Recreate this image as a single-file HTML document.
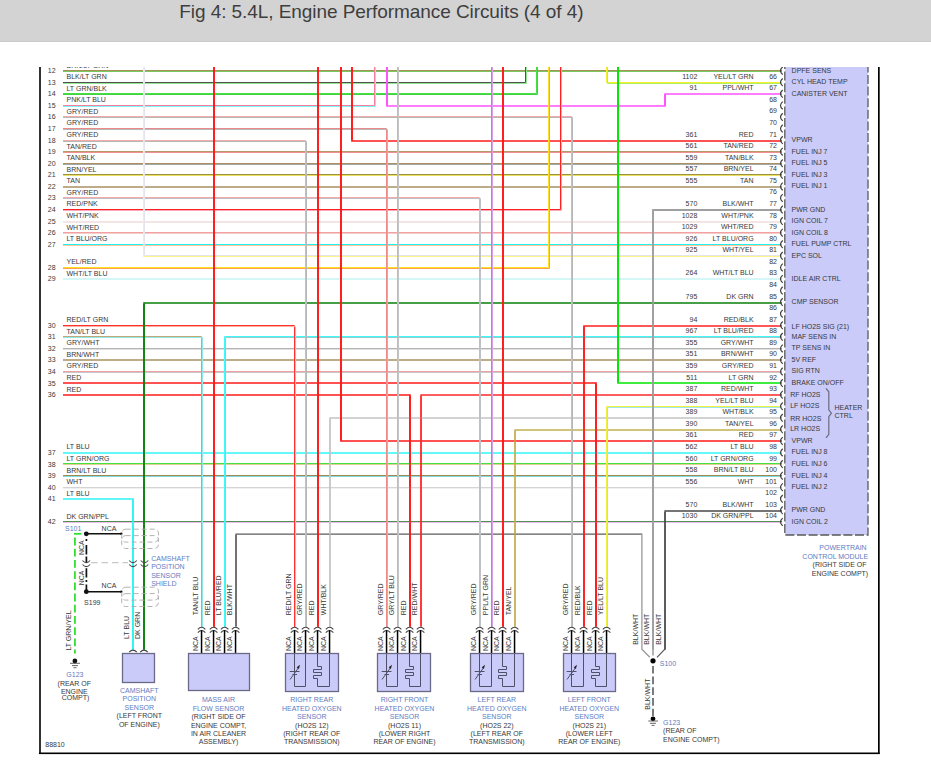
<!DOCTYPE html>
<html><head><meta charset="utf-8">
<style>
html,body{margin:0;padding:0;background:#fff;width:931px;height:774px;overflow:hidden;}
.hdr{position:absolute;left:0;top:0;width:931px;height:41px;background:#d3d3d3;border-bottom:1px solid #cbcbcb;}
.title{position:absolute;left:179.3px;top:1.1px;font-family:"Liberation Sans",sans-serif;font-size:19px;letter-spacing:-0.07px;color:#3e3e3e;white-space:nowrap;}
svg{position:absolute;left:0;top:0;}
svg text{font-family:"Liberation Sans",sans-serif;}
</style></head><body>
<div class="hdr"><div class="title">Fig 4: 5.4L, Engine Performance Circuits (4 of 4)</div></div>
<svg width="931" height="774" viewBox="0 0 931 774">
<defs><clipPath id="clip"><rect x="0" y="67" width="931" height="707"/></clipPath></defs>
<g clip-path="url(#clip)">
<path d="M63.00,70.50 L782.00,70.50" stroke="#a89058" stroke-width="1" fill="none"/>
<path d="M63.00,71.50 L782.00,71.50" stroke="#78c860" stroke-width="1" fill="none"/>
<path d="M63.00,82.50 L525.50,82.50 L525.50,61.00" stroke="#505050" stroke-width="1" fill="none"/>
<path d="M63.00,83.50 L526.50,83.50 L526.50,61.00" stroke="#90e890" stroke-width="1" fill="none"/>
<path d="M63.00,93.50 L536.50,93.50 L536.50,61.00" stroke="#44e044" stroke-width="1" fill="none"/>
<path d="M63.00,94.50 L537.50,94.50 L537.50,61.00" stroke="#44d044" stroke-width="1" fill="none"/>
<path d="M63.00,105.50 L374.50,105.50 L374.50,61.00" stroke="#f57fa0" stroke-width="1" fill="none"/>
<path d="M63.00,106.50 L375.50,106.50 L375.50,61.00" stroke="#80f4f4" stroke-width="1" fill="none"/>
<path d="M63.00,116.50 L571.50,116.50 L571.50,627.00" stroke="#f5aaaa" stroke-width="1" fill="none"/>
<path d="M63.00,117.50 L572.50,117.50 L572.50,627.00" stroke="#b8b8b8" stroke-width="1" fill="none"/>
<path d="M63.00,128.50 L386.50,128.50 L386.50,627.00" stroke="#ec8a8a" stroke-width="1" fill="none"/>
<path d="M63.00,129.50 L387.50,129.50 L387.50,627.00" stroke="#b8b8b8" stroke-width="1" fill="none"/>
<path d="M63.00,140.50 L305.50,140.50 L305.50,627.00" stroke="#f5aaaa" stroke-width="1" fill="none"/>
<path d="M63.00,141.50 L306.50,141.50 L306.50,627.00" stroke="#b8b8b8" stroke-width="1" fill="none"/>
<path d="M63.00,151.50 L782.00,151.50" stroke="#b89868" stroke-width="1" fill="none"/>
<path d="M63.00,152.50 L782.00,152.50" stroke="#f09090" stroke-width="1" fill="none"/>
<path d="M63.00,163.50 L782.00,163.50" stroke="#a89060" stroke-width="1" fill="none"/>
<path d="M63.00,164.50 L782.00,164.50" stroke="#a8a8a8" stroke-width="1" fill="none"/>
<path d="M63.00,174.50 L782.00,174.50" stroke="#a09040" stroke-width="1" fill="none"/>
<path d="M63.00,175.50 L782.00,175.50" stroke="#e8e060" stroke-width="1" fill="none"/>
<path d="M63.00,187.00 L782.00,187.00" stroke="#a89060" stroke-width="1.7" fill="none"/>
<path d="M63.00,197.50 L479.50,197.50 L479.50,627.00" stroke="#f5aaaa" stroke-width="1" fill="none"/>
<path d="M63.00,198.50 L480.50,198.50 L480.50,627.00" stroke="#c0c0c8" stroke-width="1" fill="none"/>
<path d="M63.00,209.50 L560.50,209.50 L560.50,61.00" stroke="#ff2020" stroke-width="1" fill="none"/>
<path d="M63.00,210.50 L561.50,210.50 L561.50,61.00" stroke="#f8a8b8" stroke-width="1" fill="none"/>
<path d="M63.00,222.00 L782.00,222.00" stroke="#f0dcdc" stroke-width="1.7" fill="none"/>
<path d="M63.00,232.50 L782.00,232.50" stroke="#f2a0a0" stroke-width="1" fill="none"/>
<path d="M63.00,233.50 L782.00,233.50" stroke="#f4cccc" stroke-width="1" fill="none"/>
<path d="M63.00,244.50 L782.00,244.50" stroke="#20f0f0" stroke-width="1" fill="none"/>
<path d="M63.00,245.50 L782.00,245.50" stroke="#f8c898" stroke-width="1" fill="none"/>
<path d="M63.00,267.50 L548.50,267.50 L548.50,61.00" stroke="#ffe020" stroke-width="1" fill="none"/>
<path d="M63.00,268.50 L549.50,268.50 L549.50,61.00" stroke="#ffa050" stroke-width="1" fill="none"/>
<path d="M63.00,279.00 L782.00,279.00" stroke="#c4f4f4" stroke-width="1.7" fill="none"/>
<path d="M63.00,325.50 L294.50,325.50 L294.50,627.00" stroke="#ff3030" stroke-width="1" fill="none"/>
<path d="M63.00,326.50 L295.50,326.50 L295.50,627.00" stroke="#ffb0a0" stroke-width="1" fill="none"/>
<path d="M63.00,336.50 L201.50,336.50 L201.50,627.00" stroke="#c0a878" stroke-width="1" fill="none"/>
<path d="M63.00,337.50 L202.50,337.50 L202.50,627.00" stroke="#90e8e8" stroke-width="1" fill="none"/>
<path d="M63.00,348.50 L782.00,348.50" stroke="#b4b4b4" stroke-width="1" fill="none"/>
<path d="M63.00,349.50 L782.00,349.50" stroke="#e0e0e0" stroke-width="1" fill="none"/>
<path d="M63.00,360.00 L782.00,360.00" stroke="#a89060" stroke-width="1.7" fill="none"/>
<path d="M63.00,371.50 L782.00,371.50" stroke="#f0a0a0" stroke-width="1" fill="none"/>
<path d="M63.00,372.50 L782.00,372.50" stroke="#c8c8c8" stroke-width="1" fill="none"/>
<path d="M63.00,383.00 L596.00,383.00 L596.00,627.00" stroke="#ff1a1a" stroke-width="1.7" fill="none"/>
<path d="M63.00,395.00 L410.00,395.00 L410.00,627.00" stroke="#ff1a1a" stroke-width="1.7" fill="none"/>
<path d="M63.00,453.00 L782.00,453.00" stroke="#30f4f4" stroke-width="1.7" fill="none"/>
<path d="M63.00,463.50 L782.00,463.50" stroke="#44e044" stroke-width="1" fill="none"/>
<path d="M63.00,464.50 L782.00,464.50" stroke="#e0d090" stroke-width="1" fill="none"/>
<path d="M63.00,475.50 L782.00,475.50" stroke="#a08850" stroke-width="1" fill="none"/>
<path d="M63.00,476.50 L782.00,476.50" stroke="#80dcdc" stroke-width="1" fill="none"/>
<path d="M63.00,487.50 L782.00,487.50" stroke="#d4d4d4" stroke-width="1" fill="none"/>
<path d="M63.00,488.50 L782.00,488.50" stroke="#f0f0f0" stroke-width="1" fill="none"/>
<path d="M63.00,499.00 L133.00,499.00 L133.00,650.00" stroke="#30f4f4" stroke-width="1.7" fill="none"/>
<path d="M63.00,521.50 L782.00,521.50" stroke="#4c944c" stroke-width="1" fill="none"/>
<path d="M63.00,522.50 L782.00,522.50" stroke="#eebcee" stroke-width="1" fill="none"/>
<path d="M606.50,61.00 L606.50,82.50 L782.00,82.50" stroke="#f4f030" stroke-width="1" fill="none"/>
<path d="M607.50,61.00 L607.50,83.50 L782.00,83.50" stroke="#b0f060" stroke-width="1" fill="none"/>
<path d="M387.00,61.00 L387.00,106.00 L665.00,106.00 L665.00,94.00 L782.00,94.00" stroke="#ff50ff" stroke-width="1.7" fill="none"/>
<path d="M352.00,61.00 L352.00,141.00 L782.00,141.00" stroke="#ff1a1a" stroke-width="1.7" fill="none"/>
<path d="M653.00,650.00 L653.00,210.00 L782.00,210.00" stroke="#a0a0a0" stroke-width="1.8" fill="none"/>
<path d="M143.50,61.00 L143.50,256.50 L782.00,256.50" stroke="#fff488" stroke-width="1" fill="none"/>
<path d="M144.50,61.00 L144.50,255.50 L782.00,255.50" stroke="#e4e4ea" stroke-width="1" fill="none"/>
<path d="M144.00,650.00 L144.00,303.00 L782.00,303.00" stroke="#0a800a" stroke-width="1.6" fill="none"/>
<path d="M584.00,627.00 L584.00,326.00 L782.00,326.00" stroke="#ff2020" stroke-width="1.7" fill="none"/>
<path d="M224.50,627.00 L224.50,336.50 L782.00,336.50" stroke="#40f8f8" stroke-width="1" fill="none"/>
<path d="M225.50,627.00 L225.50,337.50 L782.00,337.50" stroke="#98cccc" stroke-width="1" fill="none"/>
<path d="M618.00,61.00 L618.00,383.00 L782.00,383.00" stroke="#00e800" stroke-width="1.7" fill="none"/>
<path d="M421.00,627.00 L421.00,395.00 L782.00,395.00" stroke="#ff2a2a" stroke-width="1.4" fill="none"/>
<path d="M606.50,627.00 L606.50,406.50 L782.00,406.50" stroke="#f0f040" stroke-width="1" fill="none"/>
<path d="M607.50,627.00 L607.50,407.50 L782.00,407.50" stroke="#a0e8e8" stroke-width="1" fill="none"/>
<path d="M330.00,627.00 L330.00,418.00 L782.00,418.00" stroke="#c4c4c4" stroke-width="1.3" fill="none"/>
<path d="M515.00,627.00 L515.00,430.00 L782.00,430.00" stroke="#c4b050" stroke-width="1.35" fill="none"/>
<path d="M341.00,61.00 L341.00,441.00 L782.00,441.00" stroke="#ff1a1a" stroke-width="1.7" fill="none"/>
<path d="M665.00,650.00 L665.00,511.00 L782.00,511.00" stroke="#484848" stroke-width="1.3" fill="none"/>
<path d="M236.00,627.00 L236.00,534.00 L642.00,534.00" stroke="#5c5c5c" stroke-width="1.25" fill="none"/>
<path d="M214.00,61.00 L214.00,627.00" stroke="#ff1a1a" stroke-width="1.7" fill="none"/>
<path d="M318.00,61.00 L318.00,627.00" stroke="#ff1a1a" stroke-width="1.7" fill="none"/>
<path d="M397.50,61.00 L397.50,627.00" stroke="#60e4e4" stroke-width="1" fill="none"/>
<path d="M398.50,61.00 L398.50,627.00" stroke="#c4c4c4" stroke-width="1" fill="none"/>
<path d="M491.50,61.00 L491.50,627.00" stroke="#d070f0" stroke-width="1" fill="none"/>
<path d="M492.50,61.00 L492.50,627.00" stroke="#d8a0e8" stroke-width="1" fill="none"/>
<path d="M503.00,61.00 L503.00,627.00" stroke="#ff1a1a" stroke-width="1.7" fill="none"/>
<path d="M525.50,62.00 L525.50,82.00" stroke="#505050" stroke-width="1" fill="none"/>
<path d="M526.50,62.00 L526.50,82.00" stroke="#90e890" stroke-width="1" fill="none"/>
<path d="M536.50,62.00 L536.50,93.00" stroke="#44e044" stroke-width="1" fill="none"/>
<path d="M537.50,62.00 L537.50,93.00" stroke="#44d044" stroke-width="1" fill="none"/>
<path d="M374.50,62.00 L374.50,105.00" stroke="#f57fa0" stroke-width="1" fill="none"/>
<path d="M375.50,62.00 L375.50,105.00" stroke="#80f4f4" stroke-width="1" fill="none"/>
<path d="M571.50,118.00 L571.50,626.00" stroke="#f5aaaa" stroke-width="1" fill="none"/>
<path d="M572.50,118.00 L572.50,626.00" stroke="#b8b8b8" stroke-width="1" fill="none"/>
<path d="M386.50,130.00 L386.50,626.00" stroke="#ec8a8a" stroke-width="1" fill="none"/>
<path d="M387.50,130.00 L387.50,626.00" stroke="#b8b8b8" stroke-width="1" fill="none"/>
<path d="M305.50,142.00 L305.50,626.00" stroke="#f5aaaa" stroke-width="1" fill="none"/>
<path d="M306.50,142.00 L306.50,626.00" stroke="#b8b8b8" stroke-width="1" fill="none"/>
<path d="M479.50,199.00 L479.50,626.00" stroke="#f5aaaa" stroke-width="1" fill="none"/>
<path d="M480.50,199.00 L480.50,626.00" stroke="#c0c0c8" stroke-width="1" fill="none"/>
<path d="M560.50,62.00 L560.50,209.00" stroke="#ff2020" stroke-width="1" fill="none"/>
<path d="M561.50,62.00 L561.50,209.00" stroke="#f8a8b8" stroke-width="1" fill="none"/>
<path d="M548.50,62.00 L548.50,267.00" stroke="#ffe020" stroke-width="1" fill="none"/>
<path d="M549.50,62.00 L549.50,267.00" stroke="#ffa050" stroke-width="1" fill="none"/>
<path d="M294.50,327.00 L294.50,626.00" stroke="#ff3030" stroke-width="1" fill="none"/>
<path d="M295.50,327.00 L295.50,626.00" stroke="#ffb0a0" stroke-width="1" fill="none"/>
<path d="M201.50,338.00 L201.50,626.00" stroke="#c0a878" stroke-width="1" fill="none"/>
<path d="M202.50,338.00 L202.50,626.00" stroke="#90e8e8" stroke-width="1" fill="none"/>
<path d="M596.00,384.00 L596.00,626.00" stroke="#ff1a1a" stroke-width="1.7" fill="none"/>
<path d="M410.00,396.00 L410.00,626.00" stroke="#ff1a1a" stroke-width="1.7" fill="none"/>
<path d="M133.00,500.00 L133.00,649.00" stroke="#30f4f4" stroke-width="1.7" fill="none"/>
<path d="M606.50,62.00 L606.50,82.00" stroke="#f4f030" stroke-width="1" fill="none"/>
<path d="M607.50,62.00 L607.50,82.00" stroke="#b0f060" stroke-width="1" fill="none"/>
<path d="M387.00,62.00 L387.00,105.00" stroke="#ff50ff" stroke-width="1.7" fill="none"/>
<path d="M665.00,95.00 L665.00,105.00" stroke="#ff50ff" stroke-width="1.7" fill="none"/>
<path d="M352.00,62.00 L352.00,140.00" stroke="#ff1a1a" stroke-width="1.7" fill="none"/>
<path d="M653.00,211.00 L653.00,649.00" stroke="#a0a0a0" stroke-width="1.8" fill="none"/>
<path d="M143.50,62.00 L143.50,255.00" stroke="#fff488" stroke-width="1" fill="none"/>
<path d="M144.50,62.00 L144.50,255.00" stroke="#e4e4ea" stroke-width="1" fill="none"/>
<path d="M144.00,304.00 L144.00,649.00" stroke="#0a800a" stroke-width="1.6" fill="none"/>
<path d="M584.00,327.00 L584.00,626.00" stroke="#ff2020" stroke-width="1.7" fill="none"/>
<path d="M224.50,338.00 L224.50,626.00" stroke="#40f8f8" stroke-width="1" fill="none"/>
<path d="M225.50,338.00 L225.50,626.00" stroke="#98cccc" stroke-width="1" fill="none"/>
<path d="M618.00,62.00 L618.00,382.00" stroke="#00e800" stroke-width="1.7" fill="none"/>
<path d="M421.00,396.00 L421.00,626.00" stroke="#ff2a2a" stroke-width="1.4" fill="none"/>
<path d="M606.50,408.00 L606.50,626.00" stroke="#f0f040" stroke-width="1" fill="none"/>
<path d="M607.50,408.00 L607.50,626.00" stroke="#a0e8e8" stroke-width="1" fill="none"/>
<path d="M330.00,419.00 L330.00,626.00" stroke="#c4c4c4" stroke-width="1.3" fill="none"/>
<path d="M515.00,431.00 L515.00,626.00" stroke="#c4b050" stroke-width="1.35" fill="none"/>
<path d="M341.00,62.00 L341.00,440.00" stroke="#ff1a1a" stroke-width="1.7" fill="none"/>
<path d="M665.00,512.00 L665.00,649.00" stroke="#484848" stroke-width="1.3" fill="none"/>
<path d="M236.00,535.00 L236.00,626.00" stroke="#5c5c5c" stroke-width="1.25" fill="none"/>
<path d="M214.00,62.00 L214.00,626.00" stroke="#ff1a1a" stroke-width="1.7" fill="none"/>
<path d="M318.00,62.00 L318.00,626.00" stroke="#ff1a1a" stroke-width="1.7" fill="none"/>
<path d="M397.50,62.00 L397.50,626.00" stroke="#60e4e4" stroke-width="1" fill="none"/>
<path d="M398.50,62.00 L398.50,626.00" stroke="#c4c4c4" stroke-width="1" fill="none"/>
<path d="M491.50,62.00 L491.50,626.00" stroke="#d070f0" stroke-width="1" fill="none"/>
<path d="M492.50,62.00 L492.50,626.00" stroke="#d8a0e8" stroke-width="1" fill="none"/>
<path d="M503.00,62.00 L503.00,626.00" stroke="#ff1a1a" stroke-width="1.7" fill="none"/>
<text x="47.80" y="73.20" font-size="7.0" fill="#383838" text-anchor="start">12</text>
<text x="66.50" y="67.60" font-size="7.0" fill="#383838" text-anchor="start">BRN/LT GRN</text>
<text x="47.80" y="84.77" font-size="7.0" fill="#383838" text-anchor="start">13</text>
<text x="66.50" y="79.17" font-size="7.0" fill="#383838" text-anchor="start">BLK/LT GRN</text>
<text x="47.80" y="96.34" font-size="7.0" fill="#383838" text-anchor="start">14</text>
<text x="66.50" y="90.74" font-size="7.0" fill="#383838" text-anchor="start">LT GRN/BLK</text>
<text x="47.80" y="107.91" font-size="7.0" fill="#383838" text-anchor="start">15</text>
<text x="66.50" y="102.31" font-size="7.0" fill="#383838" text-anchor="start">PNK/LT BLU</text>
<text x="47.80" y="119.48" font-size="7.0" fill="#383838" text-anchor="start">16</text>
<text x="66.50" y="113.88" font-size="7.0" fill="#383838" text-anchor="start">GRY/RED</text>
<text x="47.80" y="131.05" font-size="7.0" fill="#383838" text-anchor="start">17</text>
<text x="66.50" y="125.45" font-size="7.0" fill="#383838" text-anchor="start">GRY/RED</text>
<text x="47.80" y="142.62" font-size="7.0" fill="#383838" text-anchor="start">18</text>
<text x="66.50" y="137.02" font-size="7.0" fill="#383838" text-anchor="start">GRY/RED</text>
<text x="47.80" y="154.19" font-size="7.0" fill="#383838" text-anchor="start">19</text>
<text x="66.50" y="148.59" font-size="7.0" fill="#383838" text-anchor="start">TAN/RED</text>
<text x="47.80" y="165.76" font-size="7.0" fill="#383838" text-anchor="start">20</text>
<text x="66.50" y="160.16" font-size="7.0" fill="#383838" text-anchor="start">TAN/BLK</text>
<text x="47.80" y="177.33" font-size="7.0" fill="#383838" text-anchor="start">21</text>
<text x="66.50" y="171.73" font-size="7.0" fill="#383838" text-anchor="start">BRN/YEL</text>
<text x="47.80" y="188.90" font-size="7.0" fill="#383838" text-anchor="start">22</text>
<text x="66.50" y="183.30" font-size="7.0" fill="#383838" text-anchor="start">TAN</text>
<text x="47.80" y="200.47" font-size="7.0" fill="#383838" text-anchor="start">23</text>
<text x="66.50" y="194.87" font-size="7.0" fill="#383838" text-anchor="start">GRY/RED</text>
<text x="47.80" y="212.04" font-size="7.0" fill="#383838" text-anchor="start">24</text>
<text x="66.50" y="206.44" font-size="7.0" fill="#383838" text-anchor="start">RED/PNK</text>
<text x="47.80" y="223.61" font-size="7.0" fill="#383838" text-anchor="start">25</text>
<text x="66.50" y="218.01" font-size="7.0" fill="#383838" text-anchor="start">WHT/PNK</text>
<text x="47.80" y="235.18" font-size="7.0" fill="#383838" text-anchor="start">26</text>
<text x="66.50" y="229.58" font-size="7.0" fill="#383838" text-anchor="start">WHT/RED</text>
<text x="47.80" y="246.75" font-size="7.0" fill="#383838" text-anchor="start">27</text>
<text x="66.50" y="241.15" font-size="7.0" fill="#383838" text-anchor="start">LT BLU/ORG</text>
<text x="47.80" y="269.89" font-size="7.0" fill="#383838" text-anchor="start">28</text>
<text x="66.50" y="264.29" font-size="7.0" fill="#383838" text-anchor="start">YEL/RED</text>
<text x="47.80" y="281.46" font-size="7.0" fill="#383838" text-anchor="start">29</text>
<text x="66.50" y="275.86" font-size="7.0" fill="#383838" text-anchor="start">WHT/LT BLU</text>
<text x="47.80" y="327.74" font-size="7.0" fill="#383838" text-anchor="start">30</text>
<text x="66.50" y="322.14" font-size="7.0" fill="#383838" text-anchor="start">RED/LT GRN</text>
<text x="47.80" y="339.31" font-size="7.0" fill="#383838" text-anchor="start">31</text>
<text x="66.50" y="333.71" font-size="7.0" fill="#383838" text-anchor="start">TAN/LT BLU</text>
<text x="47.80" y="350.88" font-size="7.0" fill="#383838" text-anchor="start">32</text>
<text x="66.50" y="345.28" font-size="7.0" fill="#383838" text-anchor="start">GRY/WHT</text>
<text x="47.80" y="362.45" font-size="7.0" fill="#383838" text-anchor="start">33</text>
<text x="66.50" y="356.85" font-size="7.0" fill="#383838" text-anchor="start">BRN/WHT</text>
<text x="47.80" y="374.02" font-size="7.0" fill="#383838" text-anchor="start">34</text>
<text x="66.50" y="368.42" font-size="7.0" fill="#383838" text-anchor="start">GRY/RED</text>
<text x="47.80" y="385.59" font-size="7.0" fill="#383838" text-anchor="start">35</text>
<text x="66.50" y="379.99" font-size="7.0" fill="#383838" text-anchor="start">RED</text>
<text x="47.80" y="397.16" font-size="7.0" fill="#383838" text-anchor="start">36</text>
<text x="66.50" y="391.56" font-size="7.0" fill="#383838" text-anchor="start">RED</text>
<text x="47.80" y="455.01" font-size="7.0" fill="#383838" text-anchor="start">37</text>
<text x="66.50" y="449.41" font-size="7.0" fill="#383838" text-anchor="start">LT BLU</text>
<text x="47.80" y="466.58" font-size="7.0" fill="#383838" text-anchor="start">38</text>
<text x="66.50" y="460.98" font-size="7.0" fill="#383838" text-anchor="start">LT GRN/ORG</text>
<text x="47.80" y="478.15" font-size="7.0" fill="#383838" text-anchor="start">39</text>
<text x="66.50" y="472.55" font-size="7.0" fill="#383838" text-anchor="start">BRN/LT BLU</text>
<text x="47.80" y="489.72" font-size="7.0" fill="#383838" text-anchor="start">40</text>
<text x="66.50" y="484.12" font-size="7.0" fill="#383838" text-anchor="start">WHT</text>
<text x="47.80" y="501.29" font-size="7.0" fill="#383838" text-anchor="start">41</text>
<text x="66.50" y="495.69" font-size="7.0" fill="#383838" text-anchor="start">LT BLU</text>
<text x="47.80" y="524.43" font-size="7.0" fill="#383838" text-anchor="start">42</text>
<text x="66.50" y="518.83" font-size="7.0" fill="#383838" text-anchor="start">DK GRN/PPL</text>
<text x="697.30" y="78.77" font-size="7.0" fill="#383838" text-anchor="end">1102</text>
<text x="753.60" y="78.77" font-size="7.0" fill="#383838" text-anchor="end">YEL/LT GRN</text>
<text x="697.30" y="90.34" font-size="7.0" fill="#383838" text-anchor="end">91</text>
<text x="753.60" y="90.34" font-size="7.0" fill="#383838" text-anchor="end">PPL/WHT</text>
<text x="697.30" y="136.62" font-size="7.0" fill="#383838" text-anchor="end">361</text>
<text x="753.60" y="136.62" font-size="7.0" fill="#383838" text-anchor="end">RED</text>
<text x="697.30" y="148.19" font-size="7.0" fill="#383838" text-anchor="end">561</text>
<text x="753.60" y="148.19" font-size="7.0" fill="#383838" text-anchor="end">TAN/RED</text>
<text x="697.30" y="159.76" font-size="7.0" fill="#383838" text-anchor="end">559</text>
<text x="753.60" y="159.76" font-size="7.0" fill="#383838" text-anchor="end">TAN/BLK</text>
<text x="697.30" y="171.33" font-size="7.0" fill="#383838" text-anchor="end">557</text>
<text x="753.60" y="171.33" font-size="7.0" fill="#383838" text-anchor="end">BRN/YEL</text>
<text x="697.30" y="182.90" font-size="7.0" fill="#383838" text-anchor="end">555</text>
<text x="753.60" y="182.90" font-size="7.0" fill="#383838" text-anchor="end">TAN</text>
<text x="697.30" y="206.04" font-size="7.0" fill="#383838" text-anchor="end">570</text>
<text x="753.60" y="206.04" font-size="7.0" fill="#383838" text-anchor="end">BLK/WHT</text>
<text x="697.30" y="217.61" font-size="7.0" fill="#383838" text-anchor="end">1028</text>
<text x="753.60" y="217.61" font-size="7.0" fill="#383838" text-anchor="end">WHT/PNK</text>
<text x="697.30" y="229.18" font-size="7.0" fill="#383838" text-anchor="end">1029</text>
<text x="753.60" y="229.18" font-size="7.0" fill="#383838" text-anchor="end">WHT/RED</text>
<text x="697.30" y="240.75" font-size="7.0" fill="#383838" text-anchor="end">926</text>
<text x="753.60" y="240.75" font-size="7.0" fill="#383838" text-anchor="end">LT BLU/ORG</text>
<text x="697.30" y="252.32" font-size="7.0" fill="#383838" text-anchor="end">925</text>
<text x="753.60" y="252.32" font-size="7.0" fill="#383838" text-anchor="end">WHT/YEL</text>
<text x="697.30" y="275.46" font-size="7.0" fill="#383838" text-anchor="end">264</text>
<text x="753.60" y="275.46" font-size="7.0" fill="#383838" text-anchor="end">WHT/LT BLU</text>
<text x="697.30" y="298.60" font-size="7.0" fill="#383838" text-anchor="end">795</text>
<text x="753.60" y="298.60" font-size="7.0" fill="#383838" text-anchor="end">DK GRN</text>
<text x="697.30" y="321.74" font-size="7.0" fill="#383838" text-anchor="end">94</text>
<text x="753.60" y="321.74" font-size="7.0" fill="#383838" text-anchor="end">RED/BLK</text>
<text x="697.30" y="333.31" font-size="7.0" fill="#383838" text-anchor="end">967</text>
<text x="753.60" y="333.31" font-size="7.0" fill="#383838" text-anchor="end">LT BLU/RED</text>
<text x="697.30" y="344.88" font-size="7.0" fill="#383838" text-anchor="end">355</text>
<text x="753.60" y="344.88" font-size="7.0" fill="#383838" text-anchor="end">GRY/WHT</text>
<text x="697.30" y="356.45" font-size="7.0" fill="#383838" text-anchor="end">351</text>
<text x="753.60" y="356.45" font-size="7.0" fill="#383838" text-anchor="end">BRN/WHT</text>
<text x="697.30" y="368.02" font-size="7.0" fill="#383838" text-anchor="end">359</text>
<text x="753.60" y="368.02" font-size="7.0" fill="#383838" text-anchor="end">GRY/RED</text>
<text x="697.30" y="379.59" font-size="7.0" fill="#383838" text-anchor="end">511</text>
<text x="753.60" y="379.59" font-size="7.0" fill="#383838" text-anchor="end">LT GRN</text>
<text x="697.30" y="391.16" font-size="7.0" fill="#383838" text-anchor="end">387</text>
<text x="753.60" y="391.16" font-size="7.0" fill="#383838" text-anchor="end">RED/WHT</text>
<text x="697.30" y="402.73" font-size="7.0" fill="#383838" text-anchor="end">388</text>
<text x="753.60" y="402.73" font-size="7.0" fill="#383838" text-anchor="end">YEL/LT BLU</text>
<text x="697.30" y="414.30" font-size="7.0" fill="#383838" text-anchor="end">389</text>
<text x="753.60" y="414.30" font-size="7.0" fill="#383838" text-anchor="end">WHT/BLK</text>
<text x="697.30" y="425.87" font-size="7.0" fill="#383838" text-anchor="end">390</text>
<text x="753.60" y="425.87" font-size="7.0" fill="#383838" text-anchor="end">TAN/YEL</text>
<text x="697.30" y="437.44" font-size="7.0" fill="#383838" text-anchor="end">361</text>
<text x="753.60" y="437.44" font-size="7.0" fill="#383838" text-anchor="end">RED</text>
<text x="697.30" y="449.01" font-size="7.0" fill="#383838" text-anchor="end">562</text>
<text x="753.60" y="449.01" font-size="7.0" fill="#383838" text-anchor="end">LT BLU</text>
<text x="697.30" y="460.58" font-size="7.0" fill="#383838" text-anchor="end">560</text>
<text x="753.60" y="460.58" font-size="7.0" fill="#383838" text-anchor="end">LT GRN/ORG</text>
<text x="697.30" y="472.15" font-size="7.0" fill="#383838" text-anchor="end">558</text>
<text x="753.60" y="472.15" font-size="7.0" fill="#383838" text-anchor="end">BRN/LT BLU</text>
<text x="697.30" y="483.72" font-size="7.0" fill="#383838" text-anchor="end">556</text>
<text x="753.60" y="483.72" font-size="7.0" fill="#383838" text-anchor="end">WHT</text>
<text x="697.30" y="506.86" font-size="7.0" fill="#383838" text-anchor="end">570</text>
<text x="753.60" y="506.86" font-size="7.0" fill="#383838" text-anchor="end">BLK/WHT</text>
<text x="697.30" y="518.43" font-size="7.0" fill="#383838" text-anchor="end">1030</text>
<text x="753.60" y="518.43" font-size="7.0" fill="#383838" text-anchor="end">DK GRN/PPL</text>
<text x="777.00" y="78.77" font-size="7.0" fill="#383838" text-anchor="end">66</text>
<text x="777.00" y="90.34" font-size="7.0" fill="#383838" text-anchor="end">67</text>
<text x="777.00" y="101.91" font-size="7.0" fill="#383838" text-anchor="end">68</text>
<text x="777.00" y="113.48" font-size="7.0" fill="#383838" text-anchor="end">69</text>
<text x="777.00" y="125.05" font-size="7.0" fill="#383838" text-anchor="end">70</text>
<text x="777.00" y="136.62" font-size="7.0" fill="#383838" text-anchor="end">71</text>
<text x="777.00" y="148.19" font-size="7.0" fill="#383838" text-anchor="end">72</text>
<text x="777.00" y="159.76" font-size="7.0" fill="#383838" text-anchor="end">73</text>
<text x="777.00" y="171.33" font-size="7.0" fill="#383838" text-anchor="end">74</text>
<text x="777.00" y="182.90" font-size="7.0" fill="#383838" text-anchor="end">75</text>
<text x="777.00" y="194.47" font-size="7.0" fill="#383838" text-anchor="end">76</text>
<text x="777.00" y="206.04" font-size="7.0" fill="#383838" text-anchor="end">77</text>
<text x="777.00" y="217.61" font-size="7.0" fill="#383838" text-anchor="end">78</text>
<text x="777.00" y="229.18" font-size="7.0" fill="#383838" text-anchor="end">79</text>
<text x="777.00" y="240.75" font-size="7.0" fill="#383838" text-anchor="end">80</text>
<text x="777.00" y="252.32" font-size="7.0" fill="#383838" text-anchor="end">81</text>
<text x="777.00" y="263.89" font-size="7.0" fill="#383838" text-anchor="end">82</text>
<text x="777.00" y="275.46" font-size="7.0" fill="#383838" text-anchor="end">83</text>
<text x="777.00" y="287.03" font-size="7.0" fill="#383838" text-anchor="end">84</text>
<text x="777.00" y="298.60" font-size="7.0" fill="#383838" text-anchor="end">85</text>
<text x="777.00" y="310.17" font-size="7.0" fill="#383838" text-anchor="end">86</text>
<text x="777.00" y="321.74" font-size="7.0" fill="#383838" text-anchor="end">87</text>
<text x="777.00" y="333.31" font-size="7.0" fill="#383838" text-anchor="end">88</text>
<text x="777.00" y="344.88" font-size="7.0" fill="#383838" text-anchor="end">89</text>
<text x="777.00" y="356.45" font-size="7.0" fill="#383838" text-anchor="end">90</text>
<text x="777.00" y="368.02" font-size="7.0" fill="#383838" text-anchor="end">91</text>
<text x="777.00" y="379.59" font-size="7.0" fill="#383838" text-anchor="end">92</text>
<text x="777.00" y="391.16" font-size="7.0" fill="#383838" text-anchor="end">93</text>
<text x="777.00" y="402.73" font-size="7.0" fill="#383838" text-anchor="end">94</text>
<text x="777.00" y="414.30" font-size="7.0" fill="#383838" text-anchor="end">95</text>
<text x="777.00" y="425.87" font-size="7.0" fill="#383838" text-anchor="end">96</text>
<text x="777.00" y="437.44" font-size="7.0" fill="#383838" text-anchor="end">97</text>
<text x="777.00" y="449.01" font-size="7.0" fill="#383838" text-anchor="end">98</text>
<text x="777.00" y="460.58" font-size="7.0" fill="#383838" text-anchor="end">99</text>
<text x="777.00" y="472.15" font-size="7.0" fill="#383838" text-anchor="end">100</text>
<text x="777.00" y="483.72" font-size="7.0" fill="#383838" text-anchor="end">101</text>
<text x="777.00" y="495.29" font-size="7.0" fill="#383838" text-anchor="end">102</text>
<text x="777.00" y="506.86" font-size="7.0" fill="#383838" text-anchor="end">103</text>
<text x="777.00" y="518.43" font-size="7.0" fill="#383838" text-anchor="end">104</text>
<rect x="785" y="60" width="83" height="475" fill="#cbcbf9"/>
<path d="M784.8,60 V535 H868 V60" fill="none" stroke="#5a5a5a" stroke-width="1.3" stroke-dasharray="9,2.6"/>
<path d="M782.7,66.90 Q778.3,70.70 782.7,74.50" fill="none" stroke="#3c3c3c" stroke-width="1.2"/>
<path d="M782.7,78.47 Q778.3,82.27 782.7,86.07" fill="none" stroke="#3c3c3c" stroke-width="1.2"/>
<path d="M782.7,90.04 Q778.3,93.84 782.7,97.64" fill="none" stroke="#3c3c3c" stroke-width="1.2"/>
<path d="M782.7,101.61 Q778.3,105.41 782.7,109.21" fill="none" stroke="#3c3c3c" stroke-width="1.2"/>
<path d="M782.7,113.18 Q778.3,116.98 782.7,120.78" fill="none" stroke="#3c3c3c" stroke-width="1.2"/>
<path d="M782.7,124.75 Q778.3,128.55 782.7,132.35" fill="none" stroke="#3c3c3c" stroke-width="1.2"/>
<path d="M782.7,136.32 Q778.3,140.12 782.7,143.92" fill="none" stroke="#3c3c3c" stroke-width="1.2"/>
<path d="M782.7,147.89 Q778.3,151.69 782.7,155.49" fill="none" stroke="#3c3c3c" stroke-width="1.2"/>
<path d="M782.7,159.46 Q778.3,163.26 782.7,167.06" fill="none" stroke="#3c3c3c" stroke-width="1.2"/>
<path d="M782.7,171.03 Q778.3,174.83 782.7,178.63" fill="none" stroke="#3c3c3c" stroke-width="1.2"/>
<path d="M782.7,182.60 Q778.3,186.40 782.7,190.20" fill="none" stroke="#3c3c3c" stroke-width="1.2"/>
<path d="M782.7,194.17 Q778.3,197.97 782.7,201.77" fill="none" stroke="#3c3c3c" stroke-width="1.2"/>
<path d="M782.7,205.74 Q778.3,209.54 782.7,213.34" fill="none" stroke="#3c3c3c" stroke-width="1.2"/>
<path d="M782.7,217.31 Q778.3,221.11 782.7,224.91" fill="none" stroke="#3c3c3c" stroke-width="1.2"/>
<path d="M782.7,228.88 Q778.3,232.68 782.7,236.48" fill="none" stroke="#3c3c3c" stroke-width="1.2"/>
<path d="M782.7,240.45 Q778.3,244.25 782.7,248.05" fill="none" stroke="#3c3c3c" stroke-width="1.2"/>
<path d="M782.7,252.02 Q778.3,255.82 782.7,259.62" fill="none" stroke="#3c3c3c" stroke-width="1.2"/>
<path d="M782.7,263.59 Q778.3,267.39 782.7,271.19" fill="none" stroke="#3c3c3c" stroke-width="1.2"/>
<path d="M782.7,275.16 Q778.3,278.96 782.7,282.76" fill="none" stroke="#3c3c3c" stroke-width="1.2"/>
<path d="M782.7,286.73 Q778.3,290.53 782.7,294.33" fill="none" stroke="#3c3c3c" stroke-width="1.2"/>
<path d="M782.7,298.30 Q778.3,302.10 782.7,305.90" fill="none" stroke="#3c3c3c" stroke-width="1.2"/>
<path d="M782.7,309.87 Q778.3,313.67 782.7,317.47" fill="none" stroke="#3c3c3c" stroke-width="1.2"/>
<path d="M782.7,321.44 Q778.3,325.24 782.7,329.04" fill="none" stroke="#3c3c3c" stroke-width="1.2"/>
<path d="M782.7,333.01 Q778.3,336.81 782.7,340.61" fill="none" stroke="#3c3c3c" stroke-width="1.2"/>
<path d="M782.7,344.58 Q778.3,348.38 782.7,352.18" fill="none" stroke="#3c3c3c" stroke-width="1.2"/>
<path d="M782.7,356.15 Q778.3,359.95 782.7,363.75" fill="none" stroke="#3c3c3c" stroke-width="1.2"/>
<path d="M782.7,367.72 Q778.3,371.52 782.7,375.32" fill="none" stroke="#3c3c3c" stroke-width="1.2"/>
<path d="M782.7,379.29 Q778.3,383.09 782.7,386.89" fill="none" stroke="#3c3c3c" stroke-width="1.2"/>
<path d="M782.7,390.86 Q778.3,394.66 782.7,398.46" fill="none" stroke="#3c3c3c" stroke-width="1.2"/>
<path d="M782.7,402.43 Q778.3,406.23 782.7,410.03" fill="none" stroke="#3c3c3c" stroke-width="1.2"/>
<path d="M782.7,414.00 Q778.3,417.80 782.7,421.60" fill="none" stroke="#3c3c3c" stroke-width="1.2"/>
<path d="M782.7,425.57 Q778.3,429.37 782.7,433.17" fill="none" stroke="#3c3c3c" stroke-width="1.2"/>
<path d="M782.7,437.14 Q778.3,440.94 782.7,444.74" fill="none" stroke="#3c3c3c" stroke-width="1.2"/>
<path d="M782.7,448.71 Q778.3,452.51 782.7,456.31" fill="none" stroke="#3c3c3c" stroke-width="1.2"/>
<path d="M782.7,460.28 Q778.3,464.08 782.7,467.88" fill="none" stroke="#3c3c3c" stroke-width="1.2"/>
<path d="M782.7,471.85 Q778.3,475.65 782.7,479.45" fill="none" stroke="#3c3c3c" stroke-width="1.2"/>
<path d="M782.7,483.42 Q778.3,487.22 782.7,491.02" fill="none" stroke="#3c3c3c" stroke-width="1.2"/>
<path d="M782.7,494.99 Q778.3,498.79 782.7,502.59" fill="none" stroke="#3c3c3c" stroke-width="1.2"/>
<path d="M782.7,506.56 Q778.3,510.36 782.7,514.16" fill="none" stroke="#3c3c3c" stroke-width="1.2"/>
<path d="M782.7,518.13 Q778.3,521.93 782.7,525.73" fill="none" stroke="#3c3c3c" stroke-width="1.2"/>
<text x="791.60" y="72.50" font-size="7.0" fill="#383838" text-anchor="start">DPFE SENS</text>
<text x="791.60" y="84.07" font-size="7.0" fill="#383838" text-anchor="start">CYL HEAD TEMP</text>
<text x="791.60" y="95.64" font-size="7.0" fill="#383838" text-anchor="start">CANISTER VENT</text>
<text x="791.60" y="141.92" font-size="7.0" fill="#383838" text-anchor="start">VPWR</text>
<text x="791.60" y="154.29" font-size="7.0" fill="#383838" text-anchor="start">FUEL INJ 7</text>
<text x="791.60" y="165.06" font-size="7.0" fill="#383838" text-anchor="start">FUEL INJ 5</text>
<text x="791.60" y="176.63" font-size="7.0" fill="#383838" text-anchor="start">FUEL INJ 3</text>
<text x="791.60" y="188.20" font-size="7.0" fill="#383838" text-anchor="start">FUEL INJ 1</text>
<text x="791.60" y="212.24" font-size="7.0" fill="#383838" text-anchor="start">PWR GND</text>
<text x="791.60" y="222.91" font-size="7.0" fill="#383838" text-anchor="start">IGN COIL 7</text>
<text x="791.60" y="235.38" font-size="7.0" fill="#383838" text-anchor="start">IGN COIL 8</text>
<text x="791.60" y="246.05" font-size="7.0" fill="#383838" text-anchor="start">FUEL PUMP CTRL</text>
<text x="791.60" y="257.62" font-size="7.0" fill="#383838" text-anchor="start">EPC SOL</text>
<text x="791.60" y="280.76" font-size="7.0" fill="#383838" text-anchor="start">IDLE AIR CTRL</text>
<text x="791.60" y="303.90" font-size="7.0" fill="#383838" text-anchor="start">CMP SENSOR</text>
<text x="791.60" y="329.04" font-size="7.0" fill="#383838" text-anchor="start">LF HO2S SIG (21)</text>
<text x="791.60" y="338.61" font-size="7.0" fill="#383838" text-anchor="start">MAF SENS IN</text>
<text x="791.60" y="350.18" font-size="7.0" fill="#383838" text-anchor="start">TP SENS IN</text>
<text x="791.60" y="361.75" font-size="7.0" fill="#383838" text-anchor="start">5V REF</text>
<text x="791.60" y="373.32" font-size="7.0" fill="#383838" text-anchor="start">SIG RTN</text>
<text x="791.60" y="384.89" font-size="7.0" fill="#383838" text-anchor="start">BRAKE ON/OFF</text>
<text x="791.60" y="442.74" font-size="7.0" fill="#383838" text-anchor="start">VPWR</text>
<text x="791.60" y="454.31" font-size="7.0" fill="#383838" text-anchor="start">FUEL INJ 8</text>
<text x="791.60" y="465.88" font-size="7.0" fill="#383838" text-anchor="start">FUEL INJ 6</text>
<text x="791.60" y="478.20" font-size="7.0" fill="#383838" text-anchor="start">FUEL INJ 4</text>
<text x="791.60" y="489.02" font-size="7.0" fill="#383838" text-anchor="start">FUEL INJ 2</text>
<text x="791.60" y="512.16" font-size="7.0" fill="#383838" text-anchor="start">PWR GND</text>
<text x="791.60" y="524.48" font-size="7.0" fill="#383838" text-anchor="start">IGN COIL 2</text>
<text x="790.20" y="397.26" font-size="7.0" fill="#383838" text-anchor="start">RF HO2S</text>
<text x="790.20" y="408.03" font-size="7.0" fill="#383838" text-anchor="start">LF HO2S</text>
<text x="790.20" y="420.60" font-size="7.0" fill="#383838" text-anchor="start">RR HO2S</text>
<text x="790.20" y="431.17" font-size="7.0" fill="#383838" text-anchor="start">LR HO2S</text>
<path d="M826,388.3 L828.8,391.8 V409.8 L831.4,413.2 L828.8,416.6 V434.4 L826,437.9" fill="none" stroke="#6a6a80" stroke-width="1.2"/>
<text x="834.50" y="409.60" font-size="7.0" fill="#383838" text-anchor="start">HEATER</text>
<text x="834.50" y="417.80" font-size="7.0" fill="#383838" text-anchor="start">CTRL</text>
<text x="866.70" y="549.60" font-size="7.0" fill="#5f7cc0" text-anchor="end">POWERTRAIN</text>
<text x="868.20" y="558.60" font-size="7.0" fill="#5f7cc0" text-anchor="end">CONTROL MODULE</text>
<text x="866.50" y="567.10" font-size="7.0" fill="#383838" text-anchor="end">(RIGHT SIDE OF</text>
<text x="868.20" y="575.60" font-size="7.0" fill="#383838" text-anchor="end">ENGINE COMPT)</text>
<path d="M197.80,629.30 Q201.60,625.10 205.40,629.30" fill="none" stroke="#444" stroke-width="1.1"/>
<path d="M197.80,632.60 Q201.60,628.40 205.40,632.60" fill="none" stroke="#444" stroke-width="1.1"/>
<path d="M201.55,630.3 V653.5" stroke="#000" stroke-width="1.5"/>
<text transform="translate(197.90,615.20) rotate(-90)" font-size="7.0" fill="#383838" text-anchor="start">TAN/LT BLU</text>
<text transform="translate(198.10,650.90) rotate(-90)" font-size="6.9" fill="#383838" text-anchor="start">NCA</text>
<path d="M209.80,629.30 Q213.60,625.10 217.40,629.30" fill="none" stroke="#444" stroke-width="1.1"/>
<path d="M209.80,632.60 Q213.60,628.40 217.40,632.60" fill="none" stroke="#444" stroke-width="1.1"/>
<path d="M213.55,630.3 V653.5" stroke="#000" stroke-width="1.5"/>
<text transform="translate(209.90,615.20) rotate(-90)" font-size="7.0" fill="#383838" text-anchor="start">RED</text>
<text transform="translate(210.10,650.90) rotate(-90)" font-size="6.9" fill="#383838" text-anchor="start">NCA</text>
<path d="M220.80,629.30 Q224.60,625.10 228.40,629.30" fill="none" stroke="#444" stroke-width="1.1"/>
<path d="M220.80,632.60 Q224.60,628.40 228.40,632.60" fill="none" stroke="#444" stroke-width="1.1"/>
<path d="M224.55,630.3 V653.5" stroke="#000" stroke-width="1.5"/>
<text transform="translate(220.90,615.20) rotate(-90)" font-size="7.0" fill="#383838" text-anchor="start">LT BLU/RED</text>
<text transform="translate(221.10,650.90) rotate(-90)" font-size="6.9" fill="#383838" text-anchor="start">NCA</text>
<path d="M231.80,629.30 Q235.60,625.10 239.40,629.30" fill="none" stroke="#444" stroke-width="1.1"/>
<path d="M231.80,632.60 Q235.60,628.40 239.40,632.60" fill="none" stroke="#444" stroke-width="1.1"/>
<path d="M235.55,630.3 V653.5" stroke="#000" stroke-width="1.5"/>
<text transform="translate(231.90,615.20) rotate(-90)" font-size="7.0" fill="#383838" text-anchor="start">BLK/WHT</text>
<text transform="translate(232.10,650.90) rotate(-90)" font-size="6.9" fill="#383838" text-anchor="start">NCA</text>
<rect x="188.50" y="653.50" width="61.00" height="37.00" fill="#cbcbf9" stroke="#6a6a88" stroke-width="1.3"/>
<text x="218.50" y="701.80" font-size="7.0" fill="#5f7cc0" text-anchor="middle">MASS AIR</text>
<text x="218.50" y="710.90" font-size="7.0" fill="#5f7cc0" text-anchor="middle">FLOW SENSOR</text>
<text x="218.50" y="719.20" font-size="7.0" fill="#383838" text-anchor="middle">(RIGHT SIDE OF</text>
<text x="218.50" y="727.90" font-size="7.0" fill="#383838" text-anchor="middle">ENGINE COMPT,</text>
<text x="218.50" y="736.20" font-size="7.0" fill="#383838" text-anchor="middle">IN AIR CLEANER</text>
<text x="218.50" y="743.90" font-size="7.0" fill="#383838" text-anchor="middle">ASSEMBLY)</text>
<path d="M290.80,629.30 Q294.60,625.10 298.40,629.30" fill="none" stroke="#444" stroke-width="1.1"/>
<path d="M290.80,632.60 Q294.60,628.40 298.40,632.60" fill="none" stroke="#444" stroke-width="1.1"/>
<path d="M294.55,630.3 V653.5" stroke="#000" stroke-width="1.5"/>
<text transform="translate(290.90,615.20) rotate(-90)" font-size="7.0" fill="#383838" text-anchor="start">RED/LT GRN</text>
<text transform="translate(291.10,650.90) rotate(-90)" font-size="6.9" fill="#383838" text-anchor="start">NCA</text>
<path d="M301.80,629.30 Q305.60,625.10 309.40,629.30" fill="none" stroke="#444" stroke-width="1.1"/>
<path d="M301.80,632.60 Q305.60,628.40 309.40,632.60" fill="none" stroke="#444" stroke-width="1.1"/>
<path d="M305.55,630.3 V653.5" stroke="#000" stroke-width="1.5"/>
<text transform="translate(301.90,615.20) rotate(-90)" font-size="7.0" fill="#383838" text-anchor="start">GRY/RED</text>
<text transform="translate(302.10,650.90) rotate(-90)" font-size="6.9" fill="#383838" text-anchor="start">NCA</text>
<path d="M313.80,629.30 Q317.60,625.10 321.40,629.30" fill="none" stroke="#444" stroke-width="1.1"/>
<path d="M313.80,632.60 Q317.60,628.40 321.40,632.60" fill="none" stroke="#444" stroke-width="1.1"/>
<path d="M317.55,630.3 V653.5" stroke="#000" stroke-width="1.5"/>
<text transform="translate(313.90,615.20) rotate(-90)" font-size="7.0" fill="#383838" text-anchor="start">RED</text>
<text transform="translate(314.10,650.90) rotate(-90)" font-size="6.9" fill="#383838" text-anchor="start">NCA</text>
<path d="M325.80,629.30 Q329.60,625.10 333.40,629.30" fill="none" stroke="#444" stroke-width="1.1"/>
<path d="M325.80,632.60 Q329.60,628.40 333.40,632.60" fill="none" stroke="#444" stroke-width="1.1"/>
<path d="M329.55,630.3 V653.5" stroke="#000" stroke-width="1.5"/>
<text transform="translate(325.90,615.20) rotate(-90)" font-size="7.0" fill="#383838" text-anchor="start">WHT/BLK</text>
<text transform="translate(326.10,650.90) rotate(-90)" font-size="6.9" fill="#383838" text-anchor="start">NCA</text>
<rect x="285.50" y="653.50" width="53.00" height="38.00" fill="#cbcbf9" stroke="#6a6a88" stroke-width="1.3"/>
<path d="M294.50,654 V686.5 H305.50 V654" fill="none" stroke="#505068" stroke-width="1"/>
<path d="M317.50,654 V666.5 H321.50 V669.5 H313.50 V672.5 H321.50 V675.5 H313.50 V678.5 H317.50 V686.5 H329.50 V654" fill="none" stroke="#505068" stroke-width="1"/>
<path d="M289.70,671.5 H299.50 M292.50,674.5 H297.00 M290.00,679.5 L298.70,667.5" fill="none" stroke="#505068" stroke-width="1"/>
<path d="M300.10,664.8 L296.70,667.2 L298.80,669.0 Z" fill="#222"/>
<text x="311.80" y="701.80" font-size="7.0" fill="#5f7cc0" text-anchor="middle">RIGHT REAR</text>
<text x="311.80" y="710.90" font-size="7.0" fill="#5f7cc0" text-anchor="middle">HEATED OXYGEN</text>
<text x="311.80" y="719.20" font-size="7.0" fill="#5f7cc0" text-anchor="middle">SENSOR</text>
<text x="311.80" y="727.90" font-size="7.0" fill="#383838" text-anchor="middle">(HO2S 12)</text>
<text x="311.80" y="736.20" font-size="7.0" fill="#383838" text-anchor="middle">(RIGHT REAR OF</text>
<text x="311.80" y="743.90" font-size="7.0" fill="#383838" text-anchor="middle">TRANSMISSION)</text>
<path d="M382.80,629.30 Q386.60,625.10 390.40,629.30" fill="none" stroke="#444" stroke-width="1.1"/>
<path d="M382.80,632.60 Q386.60,628.40 390.40,632.60" fill="none" stroke="#444" stroke-width="1.1"/>
<path d="M386.55,630.3 V653.5" stroke="#000" stroke-width="1.5"/>
<text transform="translate(382.90,615.20) rotate(-90)" font-size="7.0" fill="#383838" text-anchor="start">GRY/RED</text>
<text transform="translate(383.10,650.90) rotate(-90)" font-size="6.9" fill="#383838" text-anchor="start">NCA</text>
<path d="M393.80,629.30 Q397.60,625.10 401.40,629.30" fill="none" stroke="#444" stroke-width="1.1"/>
<path d="M393.80,632.60 Q397.60,628.40 401.40,632.60" fill="none" stroke="#444" stroke-width="1.1"/>
<path d="M397.55,630.3 V653.5" stroke="#000" stroke-width="1.5"/>
<text transform="translate(393.90,615.20) rotate(-90)" font-size="7.0" fill="#383838" text-anchor="start">GRY/LT BLU</text>
<text transform="translate(394.10,650.90) rotate(-90)" font-size="6.9" fill="#383838" text-anchor="start">NCA</text>
<path d="M405.80,629.30 Q409.60,625.10 413.40,629.30" fill="none" stroke="#444" stroke-width="1.1"/>
<path d="M405.80,632.60 Q409.60,628.40 413.40,632.60" fill="none" stroke="#444" stroke-width="1.1"/>
<path d="M409.55,630.3 V653.5" stroke="#000" stroke-width="1.5"/>
<text transform="translate(405.90,615.20) rotate(-90)" font-size="7.0" fill="#383838" text-anchor="start">RED</text>
<text transform="translate(406.10,650.90) rotate(-90)" font-size="6.9" fill="#383838" text-anchor="start">NCA</text>
<path d="M416.80,629.30 Q420.60,625.10 424.40,629.30" fill="none" stroke="#444" stroke-width="1.1"/>
<path d="M416.80,632.60 Q420.60,628.40 424.40,632.60" fill="none" stroke="#444" stroke-width="1.1"/>
<path d="M420.55,630.3 V653.5" stroke="#000" stroke-width="1.5"/>
<text transform="translate(416.90,615.20) rotate(-90)" font-size="7.0" fill="#383838" text-anchor="start">RED/WHT</text>
<text transform="translate(417.10,650.90) rotate(-90)" font-size="6.9" fill="#383838" text-anchor="start">NCA</text>
<rect x="377.50" y="653.50" width="53.00" height="38.00" fill="#cbcbf9" stroke="#6a6a88" stroke-width="1.3"/>
<path d="M386.50,654 V686.5 H397.50 V654" fill="none" stroke="#505068" stroke-width="1"/>
<path d="M409.50,654 V666.5 H413.50 V669.5 H405.50 V672.5 H413.50 V675.5 H405.50 V678.5 H409.50 V686.5 H420.50 V654" fill="none" stroke="#505068" stroke-width="1"/>
<path d="M381.70,671.5 H391.50 M384.50,674.5 H389.00 M382.00,679.5 L390.70,667.5" fill="none" stroke="#505068" stroke-width="1"/>
<path d="M392.10,664.8 L388.70,667.2 L390.80,669.0 Z" fill="#222"/>
<text x="404.50" y="701.80" font-size="7.0" fill="#5f7cc0" text-anchor="middle">RIGHT FRONT</text>
<text x="404.50" y="710.90" font-size="7.0" fill="#5f7cc0" text-anchor="middle">HEATED OXYGEN</text>
<text x="404.50" y="719.20" font-size="7.0" fill="#5f7cc0" text-anchor="middle">SENSOR</text>
<text x="404.50" y="727.90" font-size="7.0" fill="#383838" text-anchor="middle">(HO2S 11)</text>
<text x="404.50" y="736.20" font-size="7.0" fill="#383838" text-anchor="middle">(LOWER RIGHT</text>
<text x="404.50" y="743.90" font-size="7.0" fill="#383838" text-anchor="middle">REAR OF ENGINE)</text>
<path d="M475.80,629.30 Q479.60,625.10 483.40,629.30" fill="none" stroke="#444" stroke-width="1.1"/>
<path d="M475.80,632.60 Q479.60,628.40 483.40,632.60" fill="none" stroke="#444" stroke-width="1.1"/>
<path d="M479.55,630.3 V653.5" stroke="#000" stroke-width="1.5"/>
<text transform="translate(475.90,615.20) rotate(-90)" font-size="7.0" fill="#383838" text-anchor="start">GRY/RED</text>
<text transform="translate(476.10,650.90) rotate(-90)" font-size="6.9" fill="#383838" text-anchor="start">NCA</text>
<path d="M487.80,629.30 Q491.60,625.10 495.40,629.30" fill="none" stroke="#444" stroke-width="1.1"/>
<path d="M487.80,632.60 Q491.60,628.40 495.40,632.60" fill="none" stroke="#444" stroke-width="1.1"/>
<path d="M491.55,630.3 V653.5" stroke="#000" stroke-width="1.5"/>
<text transform="translate(487.90,615.20) rotate(-90)" font-size="7.0" fill="#383838" text-anchor="start">PPL/LT GRN</text>
<text transform="translate(488.10,650.90) rotate(-90)" font-size="6.9" fill="#383838" text-anchor="start">NCA</text>
<path d="M498.80,629.30 Q502.60,625.10 506.40,629.30" fill="none" stroke="#444" stroke-width="1.1"/>
<path d="M498.80,632.60 Q502.60,628.40 506.40,632.60" fill="none" stroke="#444" stroke-width="1.1"/>
<path d="M502.55,630.3 V653.5" stroke="#000" stroke-width="1.5"/>
<text transform="translate(498.90,615.20) rotate(-90)" font-size="7.0" fill="#383838" text-anchor="start">RED</text>
<text transform="translate(499.10,650.90) rotate(-90)" font-size="6.9" fill="#383838" text-anchor="start">NCA</text>
<path d="M510.80,629.30 Q514.60,625.10 518.40,629.30" fill="none" stroke="#444" stroke-width="1.1"/>
<path d="M510.80,632.60 Q514.60,628.40 518.40,632.60" fill="none" stroke="#444" stroke-width="1.1"/>
<path d="M514.55,630.3 V653.5" stroke="#000" stroke-width="1.5"/>
<text transform="translate(510.90,615.20) rotate(-90)" font-size="7.0" fill="#383838" text-anchor="start">TAN/YEL</text>
<text transform="translate(511.10,650.90) rotate(-90)" font-size="6.9" fill="#383838" text-anchor="start">NCA</text>
<rect x="470.50" y="653.50" width="53.00" height="38.00" fill="#cbcbf9" stroke="#6a6a88" stroke-width="1.3"/>
<path d="M479.50,654 V686.5 H491.50 V654" fill="none" stroke="#505068" stroke-width="1"/>
<path d="M502.50,654 V666.5 H506.50 V669.5 H498.50 V672.5 H506.50 V675.5 H498.50 V678.5 H502.50 V686.5 H514.50 V654" fill="none" stroke="#505068" stroke-width="1"/>
<path d="M474.70,671.5 H484.50 M477.50,674.5 H482.00 M475.00,679.5 L483.70,667.5" fill="none" stroke="#505068" stroke-width="1"/>
<path d="M485.10,664.8 L481.70,667.2 L483.80,669.0 Z" fill="#222"/>
<text x="496.80" y="701.80" font-size="7.0" fill="#5f7cc0" text-anchor="middle">LEFT REAR</text>
<text x="496.80" y="710.90" font-size="7.0" fill="#5f7cc0" text-anchor="middle">HEATED OXYGEN</text>
<text x="496.80" y="719.20" font-size="7.0" fill="#5f7cc0" text-anchor="middle">SENSOR</text>
<text x="496.80" y="727.90" font-size="7.0" fill="#383838" text-anchor="middle">(HO2S 22)</text>
<text x="496.80" y="736.20" font-size="7.0" fill="#383838" text-anchor="middle">(LEFT REAR OF</text>
<text x="496.80" y="743.90" font-size="7.0" fill="#383838" text-anchor="middle">TRANSMISSION)</text>
<path d="M567.80,629.30 Q571.60,625.10 575.40,629.30" fill="none" stroke="#444" stroke-width="1.1"/>
<path d="M567.80,632.60 Q571.60,628.40 575.40,632.60" fill="none" stroke="#444" stroke-width="1.1"/>
<path d="M571.55,630.3 V653.5" stroke="#000" stroke-width="1.5"/>
<text transform="translate(567.90,615.20) rotate(-90)" font-size="7.0" fill="#383838" text-anchor="start">GRY/RED</text>
<text transform="translate(568.10,650.90) rotate(-90)" font-size="6.9" fill="#383838" text-anchor="start">NCA</text>
<path d="M579.80,629.30 Q583.60,625.10 587.40,629.30" fill="none" stroke="#444" stroke-width="1.1"/>
<path d="M579.80,632.60 Q583.60,628.40 587.40,632.60" fill="none" stroke="#444" stroke-width="1.1"/>
<path d="M583.55,630.3 V653.5" stroke="#000" stroke-width="1.5"/>
<text transform="translate(579.90,615.20) rotate(-90)" font-size="7.0" fill="#383838" text-anchor="start">RED/BLK</text>
<text transform="translate(580.10,650.90) rotate(-90)" font-size="6.9" fill="#383838" text-anchor="start">NCA</text>
<path d="M591.80,629.30 Q595.60,625.10 599.40,629.30" fill="none" stroke="#444" stroke-width="1.1"/>
<path d="M591.80,632.60 Q595.60,628.40 599.40,632.60" fill="none" stroke="#444" stroke-width="1.1"/>
<path d="M595.55,630.3 V653.5" stroke="#000" stroke-width="1.5"/>
<text transform="translate(591.90,615.20) rotate(-90)" font-size="7.0" fill="#383838" text-anchor="start">RED</text>
<text transform="translate(592.10,650.90) rotate(-90)" font-size="6.9" fill="#383838" text-anchor="start">NCA</text>
<path d="M602.80,629.30 Q606.60,625.10 610.40,629.30" fill="none" stroke="#444" stroke-width="1.1"/>
<path d="M602.80,632.60 Q606.60,628.40 610.40,632.60" fill="none" stroke="#444" stroke-width="1.1"/>
<path d="M606.55,630.3 V653.5" stroke="#000" stroke-width="1.5"/>
<text transform="translate(602.90,615.20) rotate(-90)" font-size="7.0" fill="#383838" text-anchor="start">YEL/LT BLU</text>
<text transform="translate(603.10,650.90) rotate(-90)" font-size="6.9" fill="#383838" text-anchor="start">NCA</text>
<rect x="563.50" y="653.50" width="52.00" height="38.00" fill="#cbcbf9" stroke="#6a6a88" stroke-width="1.3"/>
<path d="M571.50,654 V686.5 H583.50 V654" fill="none" stroke="#505068" stroke-width="1"/>
<path d="M595.50,654 V666.5 H599.50 V669.5 H591.50 V672.5 H599.50 V675.5 H591.50 V678.5 H595.50 V686.5 H606.50 V654" fill="none" stroke="#505068" stroke-width="1"/>
<path d="M566.70,671.5 H576.50 M569.50,674.5 H574.00 M567.00,679.5 L575.70,667.5" fill="none" stroke="#505068" stroke-width="1"/>
<path d="M577.10,664.8 L573.70,667.2 L575.80,669.0 Z" fill="#222"/>
<text x="589.30" y="701.80" font-size="7.0" fill="#5f7cc0" text-anchor="middle">LEFT FRONT</text>
<text x="589.30" y="710.90" font-size="7.0" fill="#5f7cc0" text-anchor="middle">HEATED OXYGEN</text>
<text x="589.30" y="719.20" font-size="7.0" fill="#5f7cc0" text-anchor="middle">SENSOR</text>
<text x="589.30" y="727.90" font-size="7.0" fill="#383838" text-anchor="middle">(HO2S 21)</text>
<text x="589.30" y="736.20" font-size="7.0" fill="#383838" text-anchor="middle">(LOWER LEFT</text>
<text x="589.30" y="743.90" font-size="7.0" fill="#383838" text-anchor="middle">REAR OF ENGINE)</text>
<path d="M129.20,652.20 Q133.00,648.00 136.80,652.20" fill="none" stroke="#444" stroke-width="1.1"/>
<text transform="translate(129.00,639.00) rotate(-90)" font-size="7.0" fill="#383838" text-anchor="start">LT BLU</text>
<path d="M140.20,652.20 Q144.00,648.00 147.80,652.20" fill="none" stroke="#444" stroke-width="1.1"/>
<text transform="translate(140.00,639.00) rotate(-90)" font-size="7.0" fill="#383838" text-anchor="start">DK GRN</text>
<rect x="122.50" y="653.50" width="32.00" height="29.00" fill="#cbcbf9" stroke="#6a6a88" stroke-width="1.3"/>
<text x="139.30" y="692.60" font-size="7.0" fill="#5f7cc0" text-anchor="middle">CAMSHAFT</text>
<text x="139.30" y="701.10" font-size="7.0" fill="#5f7cc0" text-anchor="middle">POSITION</text>
<text x="139.30" y="709.60" font-size="7.0" fill="#5f7cc0" text-anchor="middle">SENSOR</text>
<text x="139.30" y="718.10" font-size="7.0" fill="#383838" text-anchor="middle">(LEFT FRONT</text>
<text x="139.30" y="726.60" font-size="7.0" fill="#383838" text-anchor="middle">OF ENGINE)</text>
<path d="M74,533.8 H81.5" fill="none" stroke="#33dd33" stroke-width="1.8"/>
<path d="M74.9,537.6 V653.5" fill="none" stroke="#33dd33" stroke-width="1.8" stroke-dasharray="7.8,3.4"/>
<text transform="translate(71.20,650.60) rotate(-90)" font-size="7.0" fill="#383838" text-anchor="start">LT GRN/YEL</text>
<circle cx="74.9" cy="661" r="2.4" fill="#111"/>
<path d="M70,663.3 H80 M72,665.6 H78 M73.5,667.7 H76.5" stroke="#555" stroke-width="0.9"/>
<text x="74.90" y="677.10" font-size="7.0" fill="#5f7cc0" text-anchor="middle">G123</text>
<text x="74.30" y="686.40" font-size="7.0" fill="#383838" text-anchor="middle">(REAR OF</text>
<text x="74.30" y="694.20" font-size="7.0" fill="#383838" text-anchor="middle">ENGINE</text>
<text x="75.60" y="699.60" font-size="7.0" fill="#383838" text-anchor="middle">COMPT)</text>
<text x="65.00" y="531.10" font-size="7.0" fill="#5f7cc0" text-anchor="start">S101</text>
<text x="84.10" y="605.00" font-size="7.0" fill="#383838" text-anchor="start">S199</text>
<circle cx="86.3" cy="533.8" r="2.4" fill="#111"/>
<path d="M86.3,533.8 H121.3" stroke="#111" stroke-width="1.5"/>
<circle cx="121.3" cy="533.8" r="1.2" fill="#111"/>
<circle cx="86.3" cy="591.7" r="2.4" fill="#111"/>
<path d="M86.3,591.7 H121.3" stroke="#111" stroke-width="1.5"/>
<circle cx="121.3" cy="591.7" r="1.2" fill="#111"/>
<text x="109.00" y="530.60" font-size="7.0" fill="#383838" text-anchor="middle">NCA</text>
<text x="109.00" y="588.30" font-size="7.0" fill="#383838" text-anchor="middle">NCA</text>
<path d="M86.4,539 V541 M86.4,545 V554.5 M86.4,556.5 V562.5 M86.4,568.2 V577.5 M86.4,580 V582 M86.4,584.5 V590" stroke="#111" stroke-width="1.7"/>
<text transform="translate(83.80,555.00) rotate(-90)" font-size="6.9" fill="#383838" text-anchor="start">NCA</text>
<text transform="translate(83.80,585.20) rotate(-90)" font-size="6.9" fill="#383838" text-anchor="start">NCA</text>
<path d="M82.50,560.50 Q86.30,564.70 90.10,560.50" fill="none" stroke="#444" stroke-width="1.1"/>
<path d="M82.50,564.50 Q86.30,568.70 90.10,564.50" fill="none" stroke="#444" stroke-width="1.1"/>
<path d="M129.20,560.50 Q133.00,564.70 136.80,560.50" fill="none" stroke="#444" stroke-width="1.1"/>
<path d="M129.20,564.50 Q133.00,568.70 136.80,564.50" fill="none" stroke="#444" stroke-width="1.1"/>
<path d="M140.70,560.50 Q144.50,564.70 148.30,560.50" fill="none" stroke="#444" stroke-width="1.1"/>
<path d="M140.70,564.50 Q144.50,568.70 148.30,564.50" fill="none" stroke="#444" stroke-width="1.1"/>
<path d="M91,562.6 H128" stroke="#c8c8c8" stroke-width="1.1" stroke-dasharray="6.5,4"/>
<rect x="121.7" y="529.2" width="36.8" height="12.9" rx="4" fill="none" stroke="#aaa" stroke-width="0.9" stroke-dasharray="5,3"/>
<rect x="121.7" y="535.6" width="36.8" height="12.9" rx="4" fill="none" stroke="#aaa" stroke-width="0.9" stroke-dasharray="5,3"/>
<rect x="121.7" y="587.2" width="36.8" height="12.9" rx="4" fill="none" stroke="#aaa" stroke-width="0.9" stroke-dasharray="5,3"/>
<rect x="121.7" y="593.6" width="36.8" height="12.9" rx="4" fill="none" stroke="#aaa" stroke-width="0.9" stroke-dasharray="5,3"/>
<text x="151.20" y="561.20" font-size="7.0" fill="#5f7cc0" text-anchor="start">CAMSHAFT</text>
<text x="151.20" y="569.00" font-size="7.0" fill="#5f7cc0" text-anchor="start">POSITION</text>
<text x="151.20" y="578.10" font-size="7.0" fill="#5f7cc0" text-anchor="start">SENSOR</text>
<text x="151.20" y="586.40" font-size="7.0" fill="#5f7cc0" text-anchor="start">SHIELD</text>
<path d="M641.9,533.5 V649.2 L649.8,657.3" fill="none" stroke="#999" stroke-width="1.3"/>
<path d="M664.9,649.2 L657,657.3" fill="none" stroke="#555" stroke-width="1.2"/>
<path d="M653,649 V655.5" fill="none" stroke="#a8a8a8" stroke-width="1.7"/>
<circle cx="653" cy="660.8" r="2.6" fill="#000"/>
<path d="M653,665.9 V716" stroke="#444" stroke-width="1.4" stroke-dasharray="7.7,3"/>
<circle cx="653" cy="718.8" r="2.4" fill="#000"/>
<path d="M648.3,721 H658 M650,723.3 H656 M651.6,725.4 H654.6" stroke="#555" stroke-width="0.9"/>
<text transform="translate(637.70,644.80) rotate(-90)" font-size="7.0" fill="#383838" text-anchor="start">BLK/WHT</text>
<text transform="translate(649.30,644.80) rotate(-90)" font-size="7.0" fill="#383838" text-anchor="start">BLK/WHT</text>
<text transform="translate(660.90,644.80) rotate(-90)" font-size="7.0" fill="#383838" text-anchor="start">BLK/WHT</text>
<text transform="translate(649.90,709.70) rotate(-90)" font-size="7.0" fill="#383838" text-anchor="start">BLK/WHT</text>
<text x="659.80" y="666.20" font-size="7.0" fill="#5f7cc0" text-anchor="start">S100</text>
<text x="663.10" y="725.10" font-size="7.0" fill="#5f7cc0" text-anchor="start">G123</text>
<text x="663.10" y="733.40" font-size="7.0" fill="#383838" text-anchor="start">(REAR OF</text>
<text x="663.10" y="742.10" font-size="7.0" fill="#383838" text-anchor="start">ENGINE COMPT)</text>
<text x="45.30" y="747.00" font-size="7.0" fill="#383838" text-anchor="start">88810</text>
</g>
<rect x="39" y="67" width="2" height="687" fill="#333"/>
<rect x="878" y="67" width="1.7" height="687" fill="#000"/>
<rect x="39" y="752.5" width="840.7" height="1.6" fill="#000"/>
</svg>
</body></html>
